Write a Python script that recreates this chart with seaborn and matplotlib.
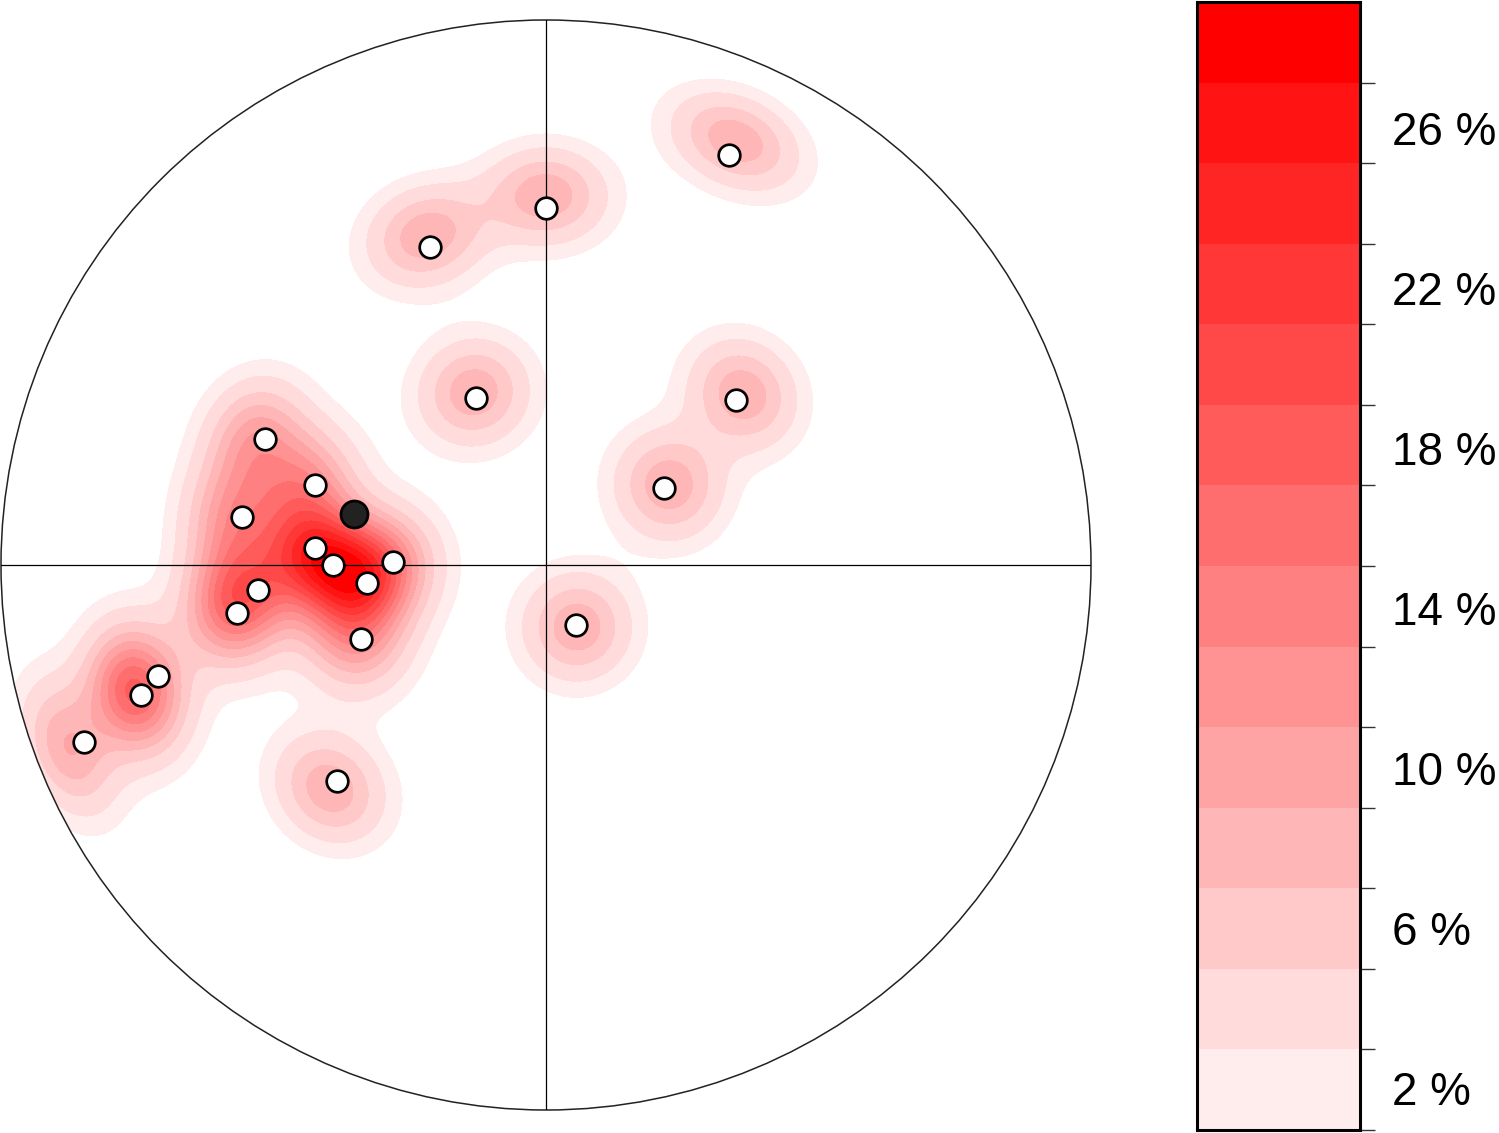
import numpy as np
import matplotlib
matplotlib.use("Agg")
import matplotlib.pyplot as plt
import seaborn as sns
from matplotlib.colors import ListedColormap, BoundaryNorm
from matplotlib.patches import Circle

sns.set_theme(style="white")
plt.rcParams['font.family'] = ['Liberation Sans', 'DejaVu Sans']

# poles, equal-area net coordinates (unit primitive circle)
pole_x = [0.336, 0.000, -0.213, -0.128, 0.349, 0.217, -0.516, -0.424, -0.558, -0.424, -0.391,
          -0.281, -0.328, -0.528, -0.567, -0.339, 0.055, -0.712, -0.743, -0.848, -0.383]
pole_y = [0.752, 0.655, 0.583, 0.306, 0.303, 0.141, 0.231, 0.147, 0.088, 0.031, 0.000,
          0.006, -0.033, -0.046, -0.088, -0.136, -0.110, -0.204, -0.239, -0.325, -0.396]
# mean vector
mean_x = [-0.352]
mean_y = [0.094]

# density classes in percent
class_edges = list(range(0, 30, 2))
class_labels = ['2 %', '6 %', '10 %', '14 %', '18 %', '22 %', '26 %']

kappa = 115.0          # smoothing concentration
pct_scale = 7.6        # percent at a lone pole
pct_power = 1.25       # density -> percent scaling
lowest = 0.8           # lowest contour drawn
contour_scale = 1.036  # density grid is drawn slightly larger than the net


def to_vec(x, y):
    r = np.clip(np.hypot(x, y), 0, 1)
    th = 2 * np.arcsin(r / np.sqrt(2))
    az = np.arctan2(x, y)
    return np.sin(th) * np.sin(az), np.sin(th) * np.cos(az), np.cos(th)


# density on the net
g = np.linspace(-1, 1, 701)
gx, gy = np.meshgrid(g, g)
vx, vy, vz = to_vec(gx, gy)
px, py, pz = to_vec(np.array(pole_x), np.array(pole_y))
dens = np.zeros_like(gx)
for i in range(len(pole_x)):
    c = vx * px[i] + vy * py[i] + vz * pz[i]
    dens += np.exp(kappa * (c - 1))
dens = pct_scale * dens ** pct_power

n_cls = len(class_edges) - 1
greens = [237 - 18.2 * i for i in range(n_cls)]
colors = [(1.0, gg / 255, gg / 255) for gg in greens]
cmap = ListedColormap(colors)

fig = plt.figure(figsize=(14.99, 11.33), dpi=100)
ax = fig.add_axes([1 / 1499, 23 / 1133, 1090 / 1499, 1090 / 1133])

fill_levels = [lowest] + class_edges[1:-1] + [1000]
cs = ax.contourf(gx * contour_scale, gy * contour_scale, dens, levels=fill_levels,
                 colors=colors, zorder=1)
clip = Circle((0, 0), 1, transform=ax.transData)
cs.set_clip_path(clip)

ax.add_patch(Circle((0, 0), 1, fill=False, ec='#222222', lw=1.1, zorder=3, clip_on=False))
ax.plot([-1, 1], [0, 0], color='black', lw=0.9, zorder=3)
ax.plot([0, 0], [-1, 1], color='black', lw=0.9, zorder=3)

sns.scatterplot(x=pole_x, y=pole_y, s=242, color='white', edgecolor='black',
                linewidth=1.95, ax=ax, zorder=5, legend=False)
sns.scatterplot(x=mean_x, y=mean_y, s=378, color='#222222', edgecolor='black',
                linewidth=1.95, ax=ax, zorder=6, legend=False)

ax.set_xlim(-1, 1)
ax.set_ylim(-1, 1)
ax.set_aspect('equal')
ax.axis('off')

# colour scale
cax = fig.add_axes([1197 / 1499, 3 / 1133, 163 / 1499, 1128 / 1133])
norm = BoundaryNorm(class_edges, n_cls)
mids = np.array(class_edges[:-1]) + 1
cax.pcolormesh([0, 1], class_edges, mids.reshape(-1, 1), cmap=cmap, norm=norm)
cax.set_xlim(0, 1)
cax.set_ylim(0, 28)
cax.set_xticks([])
cax.yaxis.tick_right()
cax.set_yticks(class_edges[:-1])
cax.set_yticklabels([])
cax.tick_params(axis='y', direction='out', length=11, width=1, color='#333333', right=True)
for sp in cax.spines.values():
    sp.set_linewidth(2.2)
    sp.set_color('black')
for j, lab in enumerate(class_labels):
    cax.text(1.196, 0.92 + 3.97 * j, lab, transform=cax.get_yaxis_transform(),
             fontsize=33, va='center', ha='left', color='black')

fig.savefig('out.png', dpi=100)
